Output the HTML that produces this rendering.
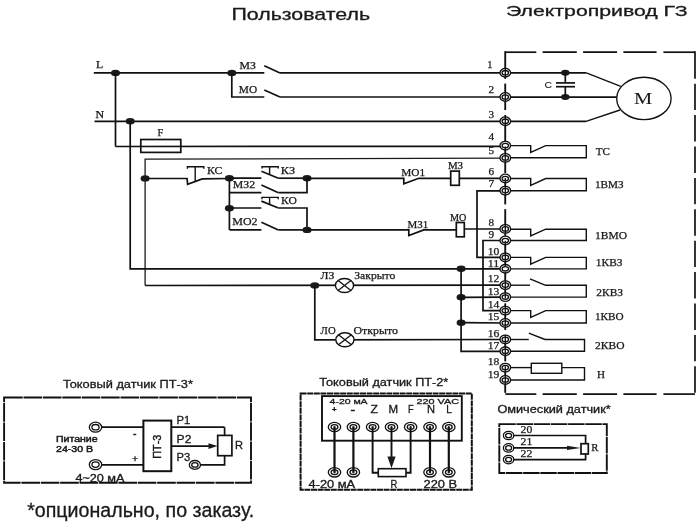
<!DOCTYPE html>
<html><head><meta charset="utf-8"><style>
html,body{margin:0;padding:0;background:#fff;}
body{width:700px;height:525px;overflow:hidden;}
svg{display:block;will-change:transform;}
</style></head><body>
<svg width="700" height="525" viewBox="0 0 700 525">
<rect width="700" height="525" fill="#fff"/>
<text x="231.5" y="19.7" font-family='"Liberation Sans", sans-serif' font-size="16.3" fill="#1a1a1a" font-weight="normal" textLength="138.5" lengthAdjust="spacingAndGlyphs"  stroke="#1a1a1a" stroke-width="0.3">Пользователь</text>
<text x="506" y="16.1" font-family='"Liberation Sans", sans-serif' font-size="14.8" fill="#1a1a1a" font-weight="normal" textLength="181.5" lengthAdjust="spacingAndGlyphs"  stroke="#1a1a1a" stroke-width="0.3">Электропривод ГЗ</text>
<line x1="505.3" y1="52.2" x2="536.3" y2="52.2" stroke="#111111" stroke-width="1.7" stroke-linecap="butt"/>
<line x1="505.3" y1="394.1" x2="536.3" y2="394.1" stroke="#111111" stroke-width="1.7" stroke-linecap="butt"/>
<line x1="542.6" y1="52.2" x2="576.8" y2="52.2" stroke="#111111" stroke-width="1.7" stroke-linecap="butt"/>
<line x1="542.6" y1="394.1" x2="576.8" y2="394.1" stroke="#111111" stroke-width="1.7" stroke-linecap="butt"/>
<line x1="583.1" y1="52.2" x2="617.1" y2="52.2" stroke="#111111" stroke-width="1.7" stroke-linecap="butt"/>
<line x1="583.1" y1="394.1" x2="617.1" y2="394.1" stroke="#111111" stroke-width="1.7" stroke-linecap="butt"/>
<line x1="623.4" y1="52.2" x2="656.6" y2="52.2" stroke="#111111" stroke-width="1.7" stroke-linecap="butt"/>
<line x1="623.4" y1="394.1" x2="656.6" y2="394.1" stroke="#111111" stroke-width="1.7" stroke-linecap="butt"/>
<line x1="663.4" y1="52.2" x2="695" y2="52.2" stroke="#111111" stroke-width="1.7" stroke-linecap="butt"/>
<line x1="663.4" y1="394.1" x2="695" y2="394.1" stroke="#111111" stroke-width="1.7" stroke-linecap="butt"/>
<line x1="505.3" y1="51.35" x2="505.3" y2="78.7" stroke="#111111" stroke-width="1.7" />
<line x1="505.3" y1="83.7" x2="505.3" y2="110.1" stroke="#111111" stroke-width="1.7" />
<line x1="505.3" y1="115.1" x2="505.3" y2="141.5" stroke="#111111" stroke-width="1.7" />
<line x1="505.3" y1="146.5" x2="505.3" y2="172.9" stroke="#111111" stroke-width="1.7" />
<line x1="505.3" y1="177.9" x2="505.3" y2="204.3" stroke="#111111" stroke-width="1.7" />
<line x1="505.3" y1="209.3" x2="505.3" y2="235.70000000000002" stroke="#111111" stroke-width="1.7" />
<line x1="505.3" y1="240.70000000000002" x2="505.3" y2="267.1" stroke="#111111" stroke-width="1.7" />
<line x1="505.3" y1="272.1" x2="505.3" y2="298.5" stroke="#111111" stroke-width="1.7" />
<line x1="505.3" y1="303.5" x2="505.3" y2="329.9" stroke="#111111" stroke-width="1.7" />
<line x1="505.3" y1="334.9" x2="505.3" y2="361.29999999999995" stroke="#111111" stroke-width="1.7" />
<line x1="505.3" y1="366.29999999999995" x2="505.3" y2="392.69999999999993" stroke="#111111" stroke-width="1.7" />
<line x1="695" y1="51.35" x2="695" y2="78.7" stroke="#111111" stroke-width="1.7" />
<line x1="695" y1="83.7" x2="695" y2="110.1" stroke="#111111" stroke-width="1.7" />
<line x1="695" y1="115.1" x2="695" y2="141.5" stroke="#111111" stroke-width="1.7" />
<line x1="695" y1="146.5" x2="695" y2="172.9" stroke="#111111" stroke-width="1.7" />
<line x1="695" y1="177.9" x2="695" y2="204.3" stroke="#111111" stroke-width="1.7" />
<line x1="695" y1="209.3" x2="695" y2="235.70000000000002" stroke="#111111" stroke-width="1.7" />
<line x1="695" y1="240.70000000000002" x2="695" y2="267.1" stroke="#111111" stroke-width="1.7" />
<line x1="695" y1="272.1" x2="695" y2="298.5" stroke="#111111" stroke-width="1.7" />
<line x1="695" y1="303.5" x2="695" y2="329.9" stroke="#111111" stroke-width="1.7" />
<line x1="695" y1="334.9" x2="695" y2="361.29999999999995" stroke="#111111" stroke-width="1.7" />
<line x1="695" y1="366.29999999999995" x2="695" y2="392.69999999999993" stroke="#111111" stroke-width="1.7" />
<text x="96" y="68.2" font-family='"Liberation Serif", serif' font-size="9.3" fill="#1a1a1a" font-weight="normal" textLength="7.2" lengthAdjust="spacingAndGlyphs"  stroke="#1a1a1a" stroke-width="0.25">L</text>
<line x1="93.8" y1="72.9" x2="264.3" y2="72.9" stroke="#111111" stroke-width="1.7" />
<line x1="280" y1="72.9" x2="505.3" y2="72.9" stroke="#111111" stroke-width="1.7" />
<line x1="264.3" y1="65.8" x2="280" y2="72.9" stroke="#111111" stroke-width="1.7" />
<text x="239.5" y="68.7" font-family='"Liberation Serif", serif' font-size="10.08" fill="#1a1a1a" font-weight="normal" textLength="16.3" lengthAdjust="spacingAndGlyphs"  stroke="#1a1a1a" stroke-width="0.25">МЗ</text>
<ellipse cx="115.5" cy="72.9" rx="4.5" ry="3.2" fill="#1a1a1a"/>
<ellipse cx="231.8" cy="72.9" rx="4.5" ry="3.2" fill="#1a1a1a"/>
<line x1="115.5" y1="72.9" x2="115.5" y2="146.5" stroke="#111111" stroke-width="1.7" />
<polyline points="231.8,72.9 231.8,97.0 264.3,97.0" fill="none" stroke="#111111" stroke-width="1.7" stroke-linejoin="miter" />
<line x1="264.3" y1="90" x2="280" y2="97.0" stroke="#111111" stroke-width="1.7" />
<line x1="280" y1="97.0" x2="505.3" y2="97.0" stroke="#111111" stroke-width="1.7" />
<text x="238.8" y="93.3" font-family='"Liberation Serif", serif' font-size="10.08" fill="#1a1a1a" font-weight="normal" textLength="18.3" lengthAdjust="spacingAndGlyphs"  stroke="#1a1a1a" stroke-width="0.25">МО</text>
<text x="95.5" y="118.1" font-family='"Liberation Serif", serif' font-size="9.3" fill="#1a1a1a" font-weight="normal" textLength="8.6" lengthAdjust="spacingAndGlyphs"  stroke="#1a1a1a" stroke-width="0.25">N</text>
<line x1="94.5" y1="121.3" x2="505.3" y2="121.3" stroke="#111111" stroke-width="1.7" />
<ellipse cx="130.2" cy="121.3" rx="4.5" ry="3.2" fill="#1a1a1a"/>
<polyline points="130.2,121.3 130.2,268.9 505.3,268.9" fill="none" stroke="#111111" stroke-width="1.7" stroke-linejoin="miter" />
<polyline points="115.5,146.5 505.3,146.3" fill="none" stroke="#111111" stroke-width="1.7" stroke-linejoin="miter" />
<rect x="140.8" y="139.5" width="40.0" height="12.900000000000006" fill="none" stroke="#111111" stroke-width="1.7" />
<text x="157.5" y="135.8" font-family='"Liberation Serif", serif' font-size="10.64" fill="#1a1a1a" font-weight="normal" textLength="5.8" lengthAdjust="spacingAndGlyphs"  stroke="#1a1a1a" stroke-width="0.25">F</text>
<polyline points="505.3,158.1 145.1,159.2 145.1,285.5" fill="none" stroke="#1a1a1a" stroke-width="1.3" stroke-linejoin="miter" />
<line x1="145.1" y1="285.5" x2="505.3" y2="285.2" stroke="#111111" stroke-width="1.7" />
<ellipse cx="145.1" cy="178.4" rx="4.5" ry="3.2" fill="#1a1a1a"/>
<polyline points="145.1,178.5 187.1,178.5 187.6,184.3 202.2,178.9 229.4,178.5" fill="none" stroke="#111111" stroke-width="1.7" stroke-linejoin="miter" />
<polyline points="187.4,168.8 187.4,166.7 203.8,166.7 203.8,168.8" fill="none" stroke="#111111" stroke-width="1.4" stroke-linejoin="miter" />
<line x1="195.2" y1="166.7" x2="195.2" y2="181.5" stroke="#111111" stroke-width="1.4" />
<text x="206.9" y="173.6" font-family='"Liberation Serif", serif' font-size="10.3" fill="#1a1a1a" font-weight="normal" textLength="15.4" lengthAdjust="spacingAndGlyphs"  stroke="#1a1a1a" stroke-width="0.25">КС</text>
<ellipse cx="229.4" cy="178.2" rx="4.5" ry="3.2" fill="#1a1a1a"/>
<line x1="229.4" y1="178.2" x2="229.4" y2="229.9" stroke="#111111" stroke-width="1.7" />
<ellipse cx="229.4" cy="208.2" rx="4.5" ry="3.2" fill="#1a1a1a"/>
<line x1="229.4" y1="178.2" x2="261.4" y2="178.2" stroke="#111111" stroke-width="1.7" />
<line x1="261.4" y1="171.2" x2="278.4" y2="178.2" stroke="#111111" stroke-width="1.7" />
<line x1="278.4" y1="178.2" x2="307" y2="178.2" stroke="#111111" stroke-width="1.7" />
<polyline points="262.0,168.6 262.0,166.7 278.2,166.7 278.2,168.6" fill="none" stroke="#111111" stroke-width="1.4" stroke-linejoin="miter" />
<line x1="269.6" y1="166.7" x2="269.6" y2="175.0" stroke="#111111" stroke-width="1.4" />
<text x="280.8" y="173.6" font-family='"Liberation Serif", serif' font-size="10.3" fill="#1a1a1a" font-weight="normal" textLength="14.3" lengthAdjust="spacingAndGlyphs"  stroke="#1a1a1a" stroke-width="0.25">КЗ</text>
<ellipse cx="307" cy="178.2" rx="4.5" ry="3.2" fill="#1a1a1a"/>
<line x1="229.4" y1="192.7" x2="261.4" y2="192.7" stroke="#111111" stroke-width="1.7" />
<line x1="261.4" y1="184.9" x2="278.4" y2="192.7" stroke="#111111" stroke-width="1.7" />
<polyline points="278.4,192.7 307,192.7 307,178.2" fill="none" stroke="#111111" stroke-width="1.7" stroke-linejoin="miter" />
<text x="232.8" y="187.9" font-family='"Liberation Serif", serif' font-size="10.08" fill="#1a1a1a" font-weight="normal" textLength="22.3" lengthAdjust="spacingAndGlyphs"  stroke="#1a1a1a" stroke-width="0.25">МЗ2</text>
<line x1="229.4" y1="208.0" x2="261.4" y2="208.0" stroke="#111111" stroke-width="1.7" />
<line x1="261.4" y1="201.1" x2="278.4" y2="208.0" stroke="#111111" stroke-width="1.7" />
<polyline points="278.4,208.0 307,208.0 307,229.9" fill="none" stroke="#111111" stroke-width="1.7" stroke-linejoin="miter" />
<polyline points="262.0,199.3 262.0,197.4 278.2,197.4 278.2,199.3" fill="none" stroke="#111111" stroke-width="1.4" stroke-linejoin="miter" />
<line x1="269.6" y1="197.4" x2="269.6" y2="204.4" stroke="#111111" stroke-width="1.4" />
<text x="281.1" y="203.9" font-family='"Liberation Serif", serif' font-size="10.3" fill="#1a1a1a" font-weight="normal" textLength="15.8" lengthAdjust="spacingAndGlyphs"  stroke="#1a1a1a" stroke-width="0.25">КО</text>
<line x1="229.4" y1="229.9" x2="261.4" y2="229.9" stroke="#111111" stroke-width="1.7" />
<line x1="261.4" y1="222.2" x2="278.4" y2="229.9" stroke="#111111" stroke-width="1.7" />
<line x1="278.4" y1="229.9" x2="307" y2="229.9" stroke="#111111" stroke-width="1.7" />
<text x="232.3" y="225.0" font-family='"Liberation Serif", serif' font-size="10.08" fill="#1a1a1a" font-weight="normal" textLength="25.3" lengthAdjust="spacingAndGlyphs"  stroke="#1a1a1a" stroke-width="0.25">МО2</text>
<ellipse cx="307" cy="229.9" rx="4.5" ry="3.2" fill="#1a1a1a"/>
<polyline points="307,178.3 403.8,178.3 403.8,183.8 418.8,178.3 450.7,178.3" fill="none" stroke="#111111" stroke-width="1.7" stroke-linejoin="miter" />
<rect x="450.7" y="171.1" width="8.600000000000023" height="14.200000000000017" fill="#fff" stroke="#111111" stroke-width="1.7" />
<line x1="459.3" y1="178.4" x2="505.3" y2="178.4" stroke="#111111" stroke-width="1.7" />
<text x="401.3" y="176.3" font-family='"Liberation Serif", serif' font-size="10.08" fill="#1a1a1a" font-weight="normal" textLength="23.9" lengthAdjust="spacingAndGlyphs"  stroke="#1a1a1a" stroke-width="0.25">МО1</text>
<text x="447.9" y="169.4" font-family='"Liberation Serif", serif' font-size="10.08" fill="#1a1a1a" font-weight="normal" textLength="15.2" lengthAdjust="spacingAndGlyphs"  stroke="#1a1a1a" stroke-width="0.25">МЗ</text>
<polyline points="307,229.9 408.8,229.9 408.8,235.5 423.8,229.9 456.3,229.9" fill="none" stroke="#111111" stroke-width="1.7" stroke-linejoin="miter" />
<rect x="456.3" y="222.5" width="8.0" height="14.300000000000011" fill="#fff" stroke="#111111" stroke-width="1.7" />
<line x1="464.3" y1="229.0" x2="505.3" y2="229.0" stroke="#111111" stroke-width="1.7" />
<text x="407.5" y="227.5" font-family='"Liberation Serif", serif' font-size="10.08" fill="#1a1a1a" font-weight="normal" textLength="20.7" lengthAdjust="spacingAndGlyphs"  stroke="#1a1a1a" stroke-width="0.25">МЗ1</text>
<text x="450.0" y="220.8" font-family='"Liberation Serif", serif' font-size="10.08" fill="#1a1a1a" font-weight="normal" textLength="16.4" lengthAdjust="spacingAndGlyphs"  stroke="#1a1a1a" stroke-width="0.25">МО</text>
<ellipse cx="314.8" cy="285.4" rx="4.5" ry="3.2" fill="#1a1a1a"/>
<polyline points="314.8,285.4 314.8,339.8 505.3,339.5" fill="none" stroke="#111111" stroke-width="1.7" stroke-linejoin="miter" />
<ellipse cx="344.5" cy="285.5" rx="9.1" ry="7.0" fill="#fff" stroke="#111111" stroke-width="1.4"/>
<line x1="338.06539" y1="280.5503" x2="350.93461" y2="290.4497" stroke="#111111" stroke-width="1.3" />
<line x1="338.06539" y1="290.4497" x2="350.93461" y2="280.5503" stroke="#111111" stroke-width="1.3" />
<ellipse cx="344.9" cy="339.8" rx="9.1" ry="7.0" fill="#fff" stroke="#111111" stroke-width="1.4"/>
<line x1="338.46538999999996" y1="334.8503" x2="351.33461" y2="344.7497" stroke="#111111" stroke-width="1.3" />
<line x1="338.46538999999996" y1="344.7497" x2="351.33461" y2="334.8503" stroke="#111111" stroke-width="1.3" />
<text x="320.5" y="278.5" font-family='"Liberation Serif", serif' font-size="10.08" fill="#1a1a1a" font-weight="normal" textLength="13.8" lengthAdjust="spacingAndGlyphs"  stroke="#1a1a1a" stroke-width="0.25">ЛЗ</text>
<text x="354.3" y="278.5" font-family='"Liberation Serif", serif' font-size="10.08" fill="#1a1a1a" font-weight="normal" textLength="41.0" lengthAdjust="spacingAndGlyphs"  stroke="#1a1a1a" stroke-width="0.25">Закрыто</text>
<text x="320.6" y="333.6" font-family='"Liberation Serif", serif' font-size="10.08" fill="#1a1a1a" font-weight="normal" textLength="15.1" lengthAdjust="spacingAndGlyphs"  stroke="#1a1a1a" stroke-width="0.25">ЛО</text>
<text x="353.4" y="333.6" font-family='"Liberation Serif", serif' font-size="10.08" fill="#1a1a1a" font-weight="normal" textLength="44.6" lengthAdjust="spacingAndGlyphs"  stroke="#1a1a1a" stroke-width="0.25">Открыто</text>
<ellipse cx="461.1" cy="268.7" rx="4.5" ry="3.2" fill="#1a1a1a"/>
<ellipse cx="461.1" cy="297.3" rx="4.5" ry="3.2" fill="#1a1a1a"/>
<ellipse cx="461.1" cy="322.7" rx="4.5" ry="3.2" fill="#1a1a1a"/>
<polyline points="461.1,268.7 461.1,351.3 505.3,351.3" fill="none" stroke="#111111" stroke-width="1.7" stroke-linejoin="miter" />
<line x1="461.1" y1="297.3" x2="505.3" y2="297.1" stroke="#111111" stroke-width="1.7" />
<line x1="461.1" y1="322.7" x2="505.3" y2="323.0" stroke="#111111" stroke-width="1.7" />
<polyline points="505.3,190.8 477.0,190.8 477.0,257.4 505.3,257.4" fill="none" stroke="#111111" stroke-width="1.7" stroke-linejoin="miter" />
<polyline points="505.3,240.5 483.0,240.5 483.0,310.6 505.3,310.6" fill="none" stroke="#111111" stroke-width="1.7" stroke-linejoin="miter" />
<line x1="505.3" y1="72.8" x2="586.4" y2="72.8" stroke="#111111" stroke-width="1.7" />
<line x1="586.4" y1="72.8" x2="620.7" y2="86.4" stroke="#111111" stroke-width="1.35" />
<polyline points="505.3,97.1 616.7,97.1" fill="none" stroke="#111111" stroke-width="1.7" stroke-linejoin="miter" />
<line x1="505.3" y1="121.3" x2="586.0" y2="121.3" stroke="#111111" stroke-width="1.7" />
<line x1="586.0" y1="121.3" x2="620.0" y2="110.0" stroke="#111111" stroke-width="1.35" />
<ellipse cx="565.3" cy="72.7" rx="4.3" ry="3.0" fill="#1a1a1a"/>
<ellipse cx="565.3" cy="97.1" rx="4.3" ry="3.0" fill="#1a1a1a"/>
<line x1="565.3" y1="72.7" x2="565.3" y2="82.9" stroke="#111111" stroke-width="1.7" />
<line x1="565.3" y1="86.7" x2="565.3" y2="97.1" stroke="#111111" stroke-width="1.7" />
<line x1="556" y1="82.9" x2="575" y2="82.9" stroke="#111111" stroke-width="1.7" />
<line x1="556" y1="86.7" x2="575" y2="86.7" stroke="#111111" stroke-width="1.7" />
<text x="544.6" y="87.5" font-family='"Liberation Sans", sans-serif' font-size="9.3" fill="#1a1a1a" font-weight="normal" textLength="7.5" lengthAdjust="spacingAndGlyphs"  stroke="#1a1a1a" stroke-width="0.1">С</text>
<ellipse cx="643.9" cy="98.4" rx="27.2" ry="21.2" fill="#fff" stroke="#111111" stroke-width="1.35"/>
<text x="634.0" y="103.7" font-family='"Liberation Serif", serif' font-size="16.24" fill="#1a1a1a" font-weight="normal" textLength="18.2" lengthAdjust="spacingAndGlyphs"  stroke="#1a1a1a" stroke-width="0.05">М</text>
<polyline points="505.3,145.6 530.7,145.6 530.7,152.4 545.7,145.6 586.3,145.6 586.3,157.8 505.3,157.8" fill="none" stroke="#111111" stroke-width="1.4" stroke-linejoin="miter" />
<polyline points="505.3,178.5 530.7,178.5 530.7,185.3 545.7,178.5 586.3,178.5 586.3,190.8 505.3,190.8" fill="none" stroke="#111111" stroke-width="1.4" stroke-linejoin="miter" />
<polyline points="505.3,229.2 530.7,229.2 530.7,236.0 545.7,229.2 586.3,229.2 586.3,240.5 505.3,240.5" fill="none" stroke="#111111" stroke-width="1.4" stroke-linejoin="miter" />
<polyline points="505.3,257.4 530.7,257.4 530.7,264.2 545.7,257.4 586.3,257.4 586.3,268.9 505.3,268.9" fill="none" stroke="#111111" stroke-width="1.4" stroke-linejoin="miter" />
<line x1="505.3" y1="285.2" x2="530.0" y2="285.2" stroke="#111111" stroke-width="1.4" />
<line x1="530.0" y1="278.9" x2="545.0" y2="285.2" stroke="#111111" stroke-width="1.4" />
<polyline points="545.0,285.2 586.3,285.2 586.3,297.1 505.3,297.1" fill="none" stroke="#111111" stroke-width="1.4" stroke-linejoin="miter" />
<polyline points="505.3,310.6 530.7,310.6 530.7,317.40000000000003 545.7,310.6 586.3,310.6 586.3,323.0 505.3,323.0" fill="none" stroke="#111111" stroke-width="1.4" stroke-linejoin="miter" />
<line x1="505.3" y1="339.5" x2="528.8" y2="339.5" stroke="#111111" stroke-width="1.4" />
<line x1="528.8" y1="333.2" x2="545.0" y2="339.5" stroke="#111111" stroke-width="1.4" />
<polyline points="545.0,339.5 584.5,339.5 584.5,351.3 505.3,351.3" fill="none" stroke="#111111" stroke-width="1.4" stroke-linejoin="miter" />
<line x1="505.3" y1="367.6" x2="531.3" y2="367.6" stroke="#111111" stroke-width="1.4" />
<rect x="531.3" y="363.3" width="30.5" height="10.0" fill="#fff" stroke="#111111" stroke-width="1.4" />
<polyline points="561.8,367.6 584.5,367.6 584.5,380.0 505.3,380.0" fill="none" stroke="#111111" stroke-width="1.4" stroke-linejoin="miter" />
<text x="595.8" y="154.5" font-family='"Liberation Serif", serif' font-size="10.3" fill="#1a1a1a" font-weight="normal" textLength="14.2" lengthAdjust="spacingAndGlyphs"  stroke="#1a1a1a" stroke-width="0.25">ТС</text>
<text x="595.0" y="187.5" font-family='"Liberation Serif", serif' font-size="10.3" fill="#1a1a1a" font-weight="normal" textLength="28.7" lengthAdjust="spacingAndGlyphs"  stroke="#1a1a1a" stroke-width="0.25">1ВМЗ</text>
<text x="595.0" y="238.5" font-family='"Liberation Serif", serif' font-size="10.3" fill="#1a1a1a" font-weight="normal" textLength="32.0" lengthAdjust="spacingAndGlyphs"  stroke="#1a1a1a" stroke-width="0.25">1ВМО</text>
<text x="595.8" y="266.3" font-family='"Liberation Serif", serif' font-size="10.3" fill="#1a1a1a" font-weight="normal" textLength="26.7" lengthAdjust="spacingAndGlyphs"  stroke="#1a1a1a" stroke-width="0.25">1КВЗ</text>
<text x="596.3" y="295.5" font-family='"Liberation Serif", serif' font-size="10.3" fill="#1a1a1a" font-weight="normal" textLength="26.7" lengthAdjust="spacingAndGlyphs"  stroke="#1a1a1a" stroke-width="0.25">2КВЗ</text>
<text x="595.0" y="319.6" font-family='"Liberation Serif", serif' font-size="10.3" fill="#1a1a1a" font-weight="normal" textLength="28.7" lengthAdjust="spacingAndGlyphs"  stroke="#1a1a1a" stroke-width="0.25">1КВО</text>
<text x="595.0" y="348.8" font-family='"Liberation Serif", serif' font-size="10.3" fill="#1a1a1a" font-weight="normal" textLength="29.5" lengthAdjust="spacingAndGlyphs"  stroke="#1a1a1a" stroke-width="0.25">2КВО</text>
<text x="597.0" y="377.6" font-family='"Liberation Serif", serif' font-size="10.3" fill="#1a1a1a" font-weight="normal" textLength="8.0" lengthAdjust="spacingAndGlyphs"  stroke="#1a1a1a" stroke-width="0.25">Н</text>
<ellipse cx="505.3" cy="72.7" rx="5.3" ry="4.3" fill="#fff" stroke="#111111" stroke-width="1.3"/>
<ellipse cx="505.3" cy="72.7" rx="3.2" ry="2.2" fill="none" stroke="#111111" stroke-width="1.3"/>
<ellipse cx="505.3" cy="97.0" rx="5.3" ry="4.3" fill="#fff" stroke="#111111" stroke-width="1.3"/>
<ellipse cx="505.3" cy="97.0" rx="3.2" ry="2.2" fill="none" stroke="#111111" stroke-width="1.3"/>
<ellipse cx="505.3" cy="121.2" rx="5.3" ry="4.3" fill="#fff" stroke="#111111" stroke-width="1.3"/>
<ellipse cx="505.3" cy="121.2" rx="3.2" ry="2.2" fill="none" stroke="#111111" stroke-width="1.3"/>
<ellipse cx="505.3" cy="145.6" rx="5.3" ry="4.3" fill="#fff" stroke="#111111" stroke-width="1.3"/>
<ellipse cx="505.3" cy="145.6" rx="3.2" ry="2.2" fill="none" stroke="#111111" stroke-width="1.3"/>
<ellipse cx="505.3" cy="157.9" rx="5.3" ry="4.3" fill="#fff" stroke="#111111" stroke-width="1.3"/>
<ellipse cx="505.3" cy="157.9" rx="3.2" ry="2.2" fill="none" stroke="#111111" stroke-width="1.3"/>
<ellipse cx="505.3" cy="178.5" rx="5.3" ry="4.3" fill="#fff" stroke="#111111" stroke-width="1.3"/>
<ellipse cx="505.3" cy="178.5" rx="3.2" ry="2.2" fill="none" stroke="#111111" stroke-width="1.3"/>
<ellipse cx="505.3" cy="190.6" rx="5.3" ry="4.3" fill="#fff" stroke="#111111" stroke-width="1.3"/>
<ellipse cx="505.3" cy="190.6" rx="3.2" ry="2.2" fill="none" stroke="#111111" stroke-width="1.3"/>
<ellipse cx="505.3" cy="228.9" rx="5.3" ry="4.3" fill="#fff" stroke="#111111" stroke-width="1.3"/>
<ellipse cx="505.3" cy="228.9" rx="3.2" ry="2.2" fill="none" stroke="#111111" stroke-width="1.3"/>
<ellipse cx="505.3" cy="240.5" rx="5.3" ry="4.3" fill="#fff" stroke="#111111" stroke-width="1.3"/>
<ellipse cx="505.3" cy="240.5" rx="3.2" ry="2.2" fill="none" stroke="#111111" stroke-width="1.3"/>
<ellipse cx="505.3" cy="257.4" rx="5.3" ry="4.3" fill="#fff" stroke="#111111" stroke-width="1.3"/>
<ellipse cx="505.3" cy="257.4" rx="3.2" ry="2.2" fill="none" stroke="#111111" stroke-width="1.3"/>
<ellipse cx="505.3" cy="268.8" rx="5.3" ry="4.3" fill="#fff" stroke="#111111" stroke-width="1.3"/>
<ellipse cx="505.3" cy="268.8" rx="3.2" ry="2.2" fill="none" stroke="#111111" stroke-width="1.3"/>
<ellipse cx="505.3" cy="285.1" rx="5.3" ry="4.3" fill="#fff" stroke="#111111" stroke-width="1.3"/>
<ellipse cx="505.3" cy="285.1" rx="3.2" ry="2.2" fill="none" stroke="#111111" stroke-width="1.3"/>
<ellipse cx="505.3" cy="297.1" rx="5.3" ry="4.3" fill="#fff" stroke="#111111" stroke-width="1.3"/>
<ellipse cx="505.3" cy="297.1" rx="3.2" ry="2.2" fill="none" stroke="#111111" stroke-width="1.3"/>
<ellipse cx="505.3" cy="310.6" rx="5.3" ry="4.3" fill="#fff" stroke="#111111" stroke-width="1.3"/>
<ellipse cx="505.3" cy="310.6" rx="3.2" ry="2.2" fill="none" stroke="#111111" stroke-width="1.3"/>
<ellipse cx="505.3" cy="323.0" rx="5.3" ry="4.3" fill="#fff" stroke="#111111" stroke-width="1.3"/>
<ellipse cx="505.3" cy="323.0" rx="3.2" ry="2.2" fill="none" stroke="#111111" stroke-width="1.3"/>
<ellipse cx="505.3" cy="339.4" rx="5.3" ry="4.3" fill="#fff" stroke="#111111" stroke-width="1.3"/>
<ellipse cx="505.3" cy="339.4" rx="3.2" ry="2.2" fill="none" stroke="#111111" stroke-width="1.3"/>
<ellipse cx="505.3" cy="351.3" rx="5.3" ry="4.3" fill="#fff" stroke="#111111" stroke-width="1.3"/>
<ellipse cx="505.3" cy="351.3" rx="3.2" ry="2.2" fill="none" stroke="#111111" stroke-width="1.3"/>
<ellipse cx="505.3" cy="367.6" rx="5.3" ry="4.3" fill="#fff" stroke="#111111" stroke-width="1.3"/>
<ellipse cx="505.3" cy="367.6" rx="3.2" ry="2.2" fill="none" stroke="#111111" stroke-width="1.3"/>
<ellipse cx="505.3" cy="380.0" rx="5.3" ry="4.3" fill="#fff" stroke="#111111" stroke-width="1.3"/>
<ellipse cx="505.3" cy="380.0" rx="3.2" ry="2.2" fill="none" stroke="#111111" stroke-width="1.3"/>
<line x1="505.3" y1="51.35" x2="505.3" y2="78.7" stroke="#111111" stroke-width="1.3" />
<line x1="505.3" y1="83.7" x2="505.3" y2="110.1" stroke="#111111" stroke-width="1.3" />
<line x1="505.3" y1="115.1" x2="505.3" y2="141.5" stroke="#111111" stroke-width="1.3" />
<line x1="505.3" y1="146.5" x2="505.3" y2="172.9" stroke="#111111" stroke-width="1.3" />
<line x1="505.3" y1="177.9" x2="505.3" y2="204.3" stroke="#111111" stroke-width="1.3" />
<line x1="505.3" y1="209.3" x2="505.3" y2="235.70000000000002" stroke="#111111" stroke-width="1.3" />
<line x1="505.3" y1="240.70000000000002" x2="505.3" y2="267.1" stroke="#111111" stroke-width="1.3" />
<line x1="505.3" y1="272.1" x2="505.3" y2="298.5" stroke="#111111" stroke-width="1.3" />
<line x1="505.3" y1="303.5" x2="505.3" y2="329.9" stroke="#111111" stroke-width="1.3" />
<line x1="505.3" y1="334.9" x2="505.3" y2="361.29999999999995" stroke="#111111" stroke-width="1.3" />
<line x1="505.3" y1="366.29999999999995" x2="505.3" y2="392.69999999999993" stroke="#111111" stroke-width="1.3" />
<text x="487.3" y="68.3" font-family='"Liberation Serif", serif' font-size="10.08" fill="#1a1a1a" font-weight="normal" textLength="5.2" lengthAdjust="spacingAndGlyphs"  stroke="#1a1a1a" stroke-width="0.25">1</text>
<text x="488.4" y="93.0" font-family='"Liberation Serif", serif' font-size="10.08" fill="#1a1a1a" font-weight="normal" textLength="5.6" lengthAdjust="spacingAndGlyphs"  stroke="#1a1a1a" stroke-width="0.25">2</text>
<text x="488.4" y="118.3" font-family='"Liberation Serif", serif' font-size="10.08" fill="#1a1a1a" font-weight="normal" textLength="5.6" lengthAdjust="spacingAndGlyphs"  stroke="#1a1a1a" stroke-width="0.25">3</text>
<text x="488.4" y="140.3" font-family='"Liberation Serif", serif' font-size="10.08" fill="#1a1a1a" font-weight="normal" textLength="5.6" lengthAdjust="spacingAndGlyphs"  stroke="#1a1a1a" stroke-width="0.25">4</text>
<text x="488.4" y="154.4" font-family='"Liberation Serif", serif' font-size="10.08" fill="#1a1a1a" font-weight="normal" textLength="5.6" lengthAdjust="spacingAndGlyphs"  stroke="#1a1a1a" stroke-width="0.25">5</text>
<text x="488.4" y="175.0" font-family='"Liberation Serif", serif' font-size="10.08" fill="#1a1a1a" font-weight="normal" textLength="5.6" lengthAdjust="spacingAndGlyphs"  stroke="#1a1a1a" stroke-width="0.25">6</text>
<text x="488.4" y="187.2" font-family='"Liberation Serif", serif' font-size="10.08" fill="#1a1a1a" font-weight="normal" textLength="5.6" lengthAdjust="spacingAndGlyphs"  stroke="#1a1a1a" stroke-width="0.25">7</text>
<text x="488.4" y="226.0" font-family='"Liberation Serif", serif' font-size="10.08" fill="#1a1a1a" font-weight="normal" textLength="5.6" lengthAdjust="spacingAndGlyphs"  stroke="#1a1a1a" stroke-width="0.25">8</text>
<text x="488.4" y="238.3" font-family='"Liberation Serif", serif' font-size="10.08" fill="#1a1a1a" font-weight="normal" textLength="5.6" lengthAdjust="spacingAndGlyphs"  stroke="#1a1a1a" stroke-width="0.25">9</text>
<text x="487.8" y="255.0" font-family='"Liberation Serif", serif' font-size="10.08" fill="#1a1a1a" font-weight="normal" textLength="11.6" lengthAdjust="spacingAndGlyphs"  stroke="#1a1a1a" stroke-width="0.25">10</text>
<text x="487.8" y="267.0" font-family='"Liberation Serif", serif' font-size="10.08" fill="#1a1a1a" font-weight="normal" textLength="11.6" lengthAdjust="spacingAndGlyphs"  stroke="#1a1a1a" stroke-width="0.25">11</text>
<text x="487.8" y="282.0" font-family='"Liberation Serif", serif' font-size="10.08" fill="#1a1a1a" font-weight="normal" textLength="11.6" lengthAdjust="spacingAndGlyphs"  stroke="#1a1a1a" stroke-width="0.25">12</text>
<text x="487.8" y="294.5" font-family='"Liberation Serif", serif' font-size="10.08" fill="#1a1a1a" font-weight="normal" textLength="11.6" lengthAdjust="spacingAndGlyphs"  stroke="#1a1a1a" stroke-width="0.25">13</text>
<text x="487.8" y="307.6" font-family='"Liberation Serif", serif' font-size="10.08" fill="#1a1a1a" font-weight="normal" textLength="11.6" lengthAdjust="spacingAndGlyphs"  stroke="#1a1a1a" stroke-width="0.25">14</text>
<text x="487.8" y="320.0" font-family='"Liberation Serif", serif' font-size="10.08" fill="#1a1a1a" font-weight="normal" textLength="11.6" lengthAdjust="spacingAndGlyphs"  stroke="#1a1a1a" stroke-width="0.25">15</text>
<text x="487.8" y="336.7" font-family='"Liberation Serif", serif' font-size="10.08" fill="#1a1a1a" font-weight="normal" textLength="11.6" lengthAdjust="spacingAndGlyphs"  stroke="#1a1a1a" stroke-width="0.25">16</text>
<text x="487.8" y="349.1" font-family='"Liberation Serif", serif' font-size="10.08" fill="#1a1a1a" font-weight="normal" textLength="11.6" lengthAdjust="spacingAndGlyphs"  stroke="#1a1a1a" stroke-width="0.25">17</text>
<text x="487.8" y="365.0" font-family='"Liberation Serif", serif' font-size="10.08" fill="#1a1a1a" font-weight="normal" textLength="11.6" lengthAdjust="spacingAndGlyphs"  stroke="#1a1a1a" stroke-width="0.25">18</text>
<text x="487.8" y="378.2" font-family='"Liberation Serif", serif' font-size="10.08" fill="#1a1a1a" font-weight="normal" textLength="11.6" lengthAdjust="spacingAndGlyphs"  stroke="#1a1a1a" stroke-width="0.25">19</text>
<text x="62.9" y="387.7" font-family='"Liberation Sans", sans-serif' font-size="11.0" fill="#1a1a1a" font-weight="normal" textLength="130.0" lengthAdjust="spacingAndGlyphs"  stroke="#1a1a1a" stroke-width="0.3">Токовый датчик ПТ-3*</text>
<rect x="4.1" y="397.5" width="246.9" height="85.30000000000001" fill="none" stroke="#111111" stroke-width="1.9" stroke-dasharray="18.6 0.8"/>
<ellipse cx="95.5" cy="427.2" rx="6.2" ry="5.0" fill="#fff" stroke="#111111" stroke-width="1.3"/>
<ellipse cx="95.5" cy="427.2" rx="3.6" ry="2.7" fill="none" stroke="#111111" stroke-width="1.3"/>
<ellipse cx="95.5" cy="464.6" rx="6.2" ry="5.0" fill="#fff" stroke="#111111" stroke-width="1.3"/>
<ellipse cx="95.5" cy="464.6" rx="3.6" ry="2.7" fill="none" stroke="#111111" stroke-width="1.3"/>
<line x1="101.7" y1="427.2" x2="143.4" y2="427.2" stroke="#111111" stroke-width="1.7" />
<line x1="101.7" y1="464.8" x2="143.4" y2="464.8" stroke="#111111" stroke-width="1.7" />
<rect x="143.4" y="420.6" width="27.900000000000006" height="50.599999999999966" fill="#fff" stroke="#111111" stroke-width="2.0" />
<text x="56.0" y="442.0" font-family='"Liberation Sans", sans-serif' font-size="8.4" fill="#1a1a1a" font-weight="normal" textLength="41.6" lengthAdjust="spacingAndGlyphs"  stroke="#1a1a1a" stroke-width="0.45">Питание</text>
<text x="56.0" y="452.2" font-family='"Liberation Sans", sans-serif' font-size="8.4" fill="#1a1a1a" font-weight="normal" textLength="37.2" lengthAdjust="spacingAndGlyphs"  stroke="#1a1a1a" stroke-width="0.45">24-30 В</text>
<text x="75.4" y="481.5" font-family='"Liberation Sans", sans-serif' font-size="10.0" fill="#1a1a1a" font-weight="normal" textLength="49.1" lengthAdjust="spacingAndGlyphs"  stroke="#1a1a1a" stroke-width="0.3">4~20 мА</text>
<text x="133.0" y="436.5" font-family='"Liberation Sans", sans-serif' font-size="10" fill="#1a1a1a" font-weight="normal" textLength="3.5" lengthAdjust="spacingAndGlyphs"  stroke="#1a1a1a" stroke-width="0.4">-</text>
<text x="132.2" y="462.4" font-family='"Liberation Sans", sans-serif' font-size="9.4" fill="#1a1a1a" font-weight="normal" textLength="5.6" lengthAdjust="spacingAndGlyphs"  stroke="#1a1a1a" stroke-width="0.4">+</text>
<text x="0" y="0" font-family='"Liberation Sans", sans-serif' font-size="9.3" fill="#1a1a1a" stroke="#1a1a1a" stroke-width="0.35" textLength="24" lengthAdjust="spacingAndGlyphs" transform="translate(161.2,458.7) rotate(-90) scale(1,1.25)">ПТ-3</text>
<line x1="171.3" y1="427.2" x2="224.6" y2="427.2" stroke="#111111" stroke-width="1.7" />
<line x1="224.6" y1="427.2" x2="224.6" y2="435.4" stroke="#111111" stroke-width="1.7" />
<line x1="171.3" y1="446.1" x2="212" y2="446.1" stroke="#111111" stroke-width="1.7" />
<polygon points="217.5,446.1 208.5,443.2 208.5,449.0" fill="#1a1a1a"/>
<rect x="217.7" y="435.4" width="14.200000000000017" height="20.30000000000001" fill="#fff" stroke="#111111" stroke-width="1.7" />
<polyline points="224.6,455.7 224.6,464.9 200.5,464.9" fill="none" stroke="#111111" stroke-width="1.7" stroke-linejoin="miter" />
<ellipse cx="194.9" cy="464.9" rx="5.6" ry="4.4" fill="#fff" stroke="#111111" stroke-width="1.3"/>
<ellipse cx="194.9" cy="464.9" rx="3.2" ry="2.3" fill="none" stroke="#111111" stroke-width="1.3"/>
<text x="176.6" y="424.0" font-family='"Liberation Sans", sans-serif' font-size="10.5" fill="#1a1a1a" font-weight="normal" textLength="13.7" lengthAdjust="spacingAndGlyphs"  stroke="#1a1a1a" stroke-width="0.3">P1</text>
<text x="176.6" y="443.4" font-family='"Liberation Sans", sans-serif' font-size="10.5" fill="#1a1a1a" font-weight="normal" textLength="14.8" lengthAdjust="spacingAndGlyphs"  stroke="#1a1a1a" stroke-width="0.3">P2</text>
<text x="176.6" y="461.0" font-family='"Liberation Sans", sans-serif' font-size="10.5" fill="#1a1a1a" font-weight="normal" textLength="13.7" lengthAdjust="spacingAndGlyphs"  stroke="#1a1a1a" stroke-width="0.3">P3</text>
<text x="234.9" y="449.1" font-family='"Liberation Sans", sans-serif' font-size="10.0" fill="#1a1a1a" font-weight="normal" textLength="8.0" lengthAdjust="spacingAndGlyphs"  stroke="#1a1a1a" stroke-width="0.3">R</text>
<text x="319.3" y="385.8" font-family='"Liberation Sans", sans-serif' font-size="11.0" fill="#1a1a1a" font-weight="normal" textLength="129.0" lengthAdjust="spacingAndGlyphs"  stroke="#1a1a1a" stroke-width="0.3">Токовый датчик ПТ-2*</text>
<rect x="300.6" y="393.4" width="171.2" height="96.40000000000003" fill="none" stroke="#111111" stroke-width="2.0" stroke-dasharray="6 0.6"/>
<rect x="322.0" y="396.1" width="139.8" height="44.599999999999966" fill="none" stroke="#111111" stroke-width="1.9" />
<text x="329.6" y="403.8" font-family='"Liberation Sans", sans-serif' font-size="7.4" fill="#1a1a1a" font-weight="normal" textLength="38.0" lengthAdjust="spacingAndGlyphs"  stroke="#1a1a1a" stroke-width="0.3">4-20 мА</text>
<text x="416.6" y="403.8" font-family='"Liberation Sans", sans-serif' font-size="7.4" fill="#1a1a1a" font-weight="normal" textLength="42.4" lengthAdjust="spacingAndGlyphs"  stroke="#1a1a1a" stroke-width="0.3">220 VAC</text>
<text x="370.4" y="412.7" font-family='"Liberation Sans", sans-serif' font-size="10.5" fill="#1a1a1a" font-weight="normal" textLength="7.5" lengthAdjust="spacingAndGlyphs"  stroke="#1a1a1a" stroke-width="0.3">Z</text>
<text x="388.6" y="412.7" font-family='"Liberation Sans", sans-serif' font-size="10.5" fill="#1a1a1a" font-weight="normal" textLength="9.6" lengthAdjust="spacingAndGlyphs"  stroke="#1a1a1a" stroke-width="0.3">M</text>
<text x="408.0" y="412.7" font-family='"Liberation Sans", sans-serif' font-size="10.5" fill="#1a1a1a" font-weight="normal" textLength="5.6" lengthAdjust="spacingAndGlyphs"  stroke="#1a1a1a" stroke-width="0.3">F</text>
<text x="427.0" y="412.7" font-family='"Liberation Sans", sans-serif' font-size="10.5" fill="#1a1a1a" font-weight="normal" textLength="8.0" lengthAdjust="spacingAndGlyphs"  stroke="#1a1a1a" stroke-width="0.3">N</text>
<text x="446.3" y="412.7" font-family='"Liberation Sans", sans-serif' font-size="10.5" fill="#1a1a1a" font-weight="normal" textLength="5.6" lengthAdjust="spacingAndGlyphs"  stroke="#1a1a1a" stroke-width="0.3">L</text>
<text x="331.9" y="412.0" font-family='"Liberation Sans", sans-serif' font-size="7.2" fill="#1a1a1a" font-weight="normal" textLength="4.6" lengthAdjust="spacingAndGlyphs"  stroke="#1a1a1a" stroke-width="0.6">+</text>
<text x="350.8" y="413.2" font-family='"Liberation Sans", sans-serif' font-size="8.5" fill="#1a1a1a" font-weight="normal" textLength="4.2" lengthAdjust="spacingAndGlyphs"  stroke="#1a1a1a" stroke-width="0.6">-</text>
<ellipse cx="334.5" cy="427.0" rx="6.2" ry="4.7" fill="#fff" stroke="#111111" stroke-width="1.3"/>
<ellipse cx="334.5" cy="427.0" rx="3.4" ry="2.4" fill="none" stroke="#111111" stroke-width="1.3"/>
<ellipse cx="353.4" cy="427.0" rx="6.2" ry="4.7" fill="#fff" stroke="#111111" stroke-width="1.3"/>
<ellipse cx="353.4" cy="427.0" rx="3.4" ry="2.4" fill="none" stroke="#111111" stroke-width="1.3"/>
<ellipse cx="372.6" cy="427.0" rx="6.2" ry="4.7" fill="#fff" stroke="#111111" stroke-width="1.3"/>
<ellipse cx="372.6" cy="427.0" rx="3.4" ry="2.4" fill="none" stroke="#111111" stroke-width="1.3"/>
<ellipse cx="391.5" cy="427.0" rx="6.2" ry="4.7" fill="#fff" stroke="#111111" stroke-width="1.3"/>
<ellipse cx="391.5" cy="427.0" rx="3.4" ry="2.4" fill="none" stroke="#111111" stroke-width="1.3"/>
<ellipse cx="410.6" cy="427.0" rx="6.2" ry="4.7" fill="#fff" stroke="#111111" stroke-width="1.3"/>
<ellipse cx="410.6" cy="427.0" rx="3.4" ry="2.4" fill="none" stroke="#111111" stroke-width="1.3"/>
<ellipse cx="430.0" cy="427.0" rx="6.2" ry="4.7" fill="#fff" stroke="#111111" stroke-width="1.3"/>
<ellipse cx="430.0" cy="427.0" rx="3.4" ry="2.4" fill="none" stroke="#111111" stroke-width="1.3"/>
<ellipse cx="448.8" cy="427.0" rx="6.2" ry="4.7" fill="#fff" stroke="#111111" stroke-width="1.3"/>
<ellipse cx="448.8" cy="427.0" rx="3.4" ry="2.4" fill="none" stroke="#111111" stroke-width="1.3"/>
<ellipse cx="334.5" cy="472.3" rx="6.2" ry="4.7" fill="#fff" stroke="#111111" stroke-width="1.3"/>
<ellipse cx="334.5" cy="472.3" rx="3.4" ry="2.4" fill="none" stroke="#111111" stroke-width="1.3"/>
<ellipse cx="353.4" cy="472.3" rx="6.2" ry="4.7" fill="#fff" stroke="#111111" stroke-width="1.3"/>
<ellipse cx="353.4" cy="472.3" rx="3.4" ry="2.4" fill="none" stroke="#111111" stroke-width="1.3"/>
<ellipse cx="430.0" cy="472.3" rx="6.2" ry="4.7" fill="#fff" stroke="#111111" stroke-width="1.3"/>
<ellipse cx="430.0" cy="472.3" rx="3.4" ry="2.4" fill="none" stroke="#111111" stroke-width="1.3"/>
<ellipse cx="448.8" cy="472.3" rx="6.2" ry="4.7" fill="#fff" stroke="#111111" stroke-width="1.3"/>
<ellipse cx="448.8" cy="472.3" rx="3.4" ry="2.4" fill="none" stroke="#111111" stroke-width="1.3"/>
<line x1="334.5" y1="427.0" x2="334.5" y2="472.3" stroke="#111111" stroke-width="2.2" />
<line x1="353.4" y1="427.0" x2="353.4" y2="472.3" stroke="#111111" stroke-width="2.2" />
<line x1="430.0" y1="427.0" x2="430.0" y2="472.3" stroke="#111111" stroke-width="2.2" />
<line x1="448.8" y1="427.0" x2="448.8" y2="472.3" stroke="#111111" stroke-width="2.2" />
<polyline points="372.6,427.0 372.6,472.8 378.3,472.8" fill="none" stroke="#111111" stroke-width="1.9" stroke-linejoin="miter" />
<polyline points="410.6,427.0 410.6,472.8 406.0,472.8" fill="none" stroke="#111111" stroke-width="1.9" stroke-linejoin="miter" />
<line x1="391.5" y1="427.0" x2="391.5" y2="458" stroke="#111111" stroke-width="1.9" />
<polygon points="391.5,468.3 387.4,456.6 395.6,456.6" fill="#1a1a1a"/>
<rect x="378.3" y="468.7" width="27.69999999999999" height="7.900000000000034" fill="#fff" stroke="#111111" stroke-width="1.6" />
<ellipse cx="334.5" cy="427.0" rx="1.1" ry="1.1" fill="#1a1a1a"/>
<ellipse cx="353.4" cy="427.0" rx="1.1" ry="1.1" fill="#1a1a1a"/>
<ellipse cx="372.6" cy="427.0" rx="1.1" ry="1.1" fill="#1a1a1a"/>
<ellipse cx="391.5" cy="427.0" rx="1.1" ry="1.1" fill="#1a1a1a"/>
<ellipse cx="410.6" cy="427.0" rx="1.1" ry="1.1" fill="#1a1a1a"/>
<ellipse cx="430.0" cy="427.0" rx="1.1" ry="1.1" fill="#1a1a1a"/>
<ellipse cx="448.8" cy="427.0" rx="1.1" ry="1.1" fill="#1a1a1a"/>
<ellipse cx="334.5" cy="472.3" rx="1.1" ry="1.1" fill="#1a1a1a"/>
<ellipse cx="353.4" cy="472.3" rx="1.1" ry="1.1" fill="#1a1a1a"/>
<ellipse cx="430.0" cy="472.3" rx="1.1" ry="1.1" fill="#1a1a1a"/>
<ellipse cx="448.8" cy="472.3" rx="1.1" ry="1.1" fill="#1a1a1a"/>
<text x="308.5" y="488.1" font-family='"Liberation Sans", sans-serif' font-size="10.0" fill="#1a1a1a" font-weight="normal" textLength="46.6" lengthAdjust="spacingAndGlyphs"  stroke="#1a1a1a" stroke-width="0.3">4-20 мА</text>
<text x="390.4" y="488.1" font-family='"Liberation Sans", sans-serif' font-size="10.0" fill="#1a1a1a" font-weight="normal" textLength="6.8" lengthAdjust="spacingAndGlyphs"  stroke="#1a1a1a" stroke-width="0.3">R</text>
<text x="423.5" y="488.1" font-family='"Liberation Sans", sans-serif' font-size="10.0" fill="#1a1a1a" font-weight="normal" textLength="33.5" lengthAdjust="spacingAndGlyphs"  stroke="#1a1a1a" stroke-width="0.3">220 В</text>
<text x="497.4" y="412.6" font-family='"Liberation Sans", sans-serif' font-size="10.5" fill="#1a1a1a" font-weight="normal" textLength="113.3" lengthAdjust="spacingAndGlyphs"  stroke="#1a1a1a" stroke-width="0.3">Омический датчик*</text>
<rect x="499.3" y="424.1" width="107.49999999999994" height="48.89999999999998" fill="none" stroke="#111111" stroke-width="1.9" stroke-dasharray="16.5 0.7"/>
<ellipse cx="508.6" cy="435.5" rx="5.2" ry="4.2" fill="#fff" stroke="#111111" stroke-width="1.3"/>
<ellipse cx="508.6" cy="435.5" rx="3.0" ry="2.2" fill="none" stroke="#111111" stroke-width="1.3"/>
<ellipse cx="508.6" cy="447.9" rx="5.2" ry="4.2" fill="#fff" stroke="#111111" stroke-width="1.3"/>
<ellipse cx="508.6" cy="447.9" rx="3.0" ry="2.2" fill="none" stroke="#111111" stroke-width="1.3"/>
<ellipse cx="508.6" cy="459.6" rx="5.2" ry="4.2" fill="#fff" stroke="#111111" stroke-width="1.3"/>
<ellipse cx="508.6" cy="459.6" rx="3.0" ry="2.2" fill="none" stroke="#111111" stroke-width="1.3"/>
<polyline points="513.8,435.5 585.6,435.5 585.6,443.7" fill="none" stroke="#111111" stroke-width="1.7" stroke-linejoin="miter" />
<polyline points="513.8,459.6 585.6,459.6 585.6,454.0" fill="none" stroke="#111111" stroke-width="1.7" stroke-linejoin="miter" />
<line x1="513.8" y1="447.9" x2="570" y2="447.9" stroke="#111111" stroke-width="1.7" />
<polygon points="580.8,447.9 567,445.7 567,450.1" fill="#1a1a1a"/>
<rect x="581.0" y="443.7" width="7.2999999999999545" height="10.300000000000011" fill="#fff" stroke="#111111" stroke-width="1.7" />
<text x="520.6" y="432.7" font-family='"Liberation Serif", serif' font-size="10.3" fill="#1a1a1a" font-weight="normal" textLength="11.7" lengthAdjust="spacingAndGlyphs"  stroke="#1a1a1a" stroke-width="0.25">20</text>
<text x="520.6" y="445.1" font-family='"Liberation Serif", serif' font-size="10.3" fill="#1a1a1a" font-weight="normal" textLength="11.7" lengthAdjust="spacingAndGlyphs"  stroke="#1a1a1a" stroke-width="0.25">21</text>
<text x="520.6" y="457.2" font-family='"Liberation Serif", serif' font-size="10.3" fill="#1a1a1a" font-weight="normal" textLength="11.7" lengthAdjust="spacingAndGlyphs"  stroke="#1a1a1a" stroke-width="0.25">22</text>
<text x="591.2" y="451.3" font-family='"Liberation Serif", serif' font-size="10.3" fill="#1a1a1a" font-weight="normal" textLength="7.1" lengthAdjust="spacingAndGlyphs"  stroke="#1a1a1a" stroke-width="0.25">R</text>
<text x="27.2" y="516.9" font-family='"Liberation Sans", sans-serif' font-size="19.4" fill="#1a1a1a" font-weight="normal" textLength="227.0" lengthAdjust="spacingAndGlyphs"  stroke="#1a1a1a" stroke-width="0.3">*опционально, по заказу.</text>
</svg>
</body></html>
